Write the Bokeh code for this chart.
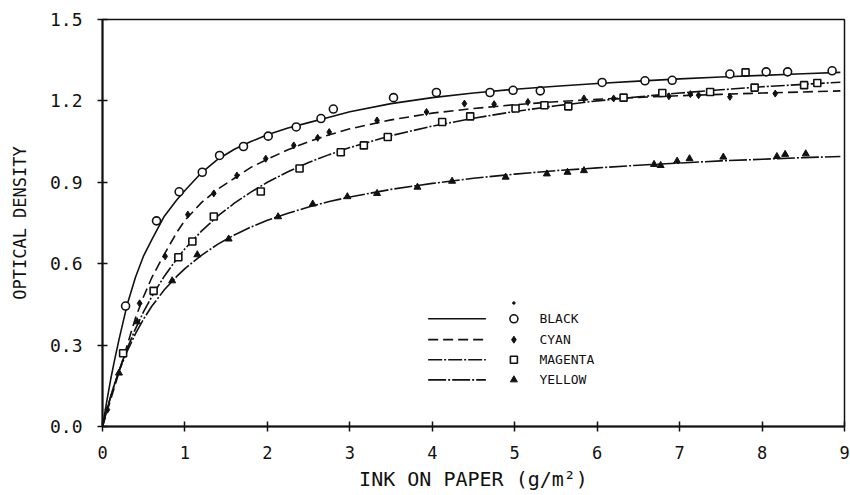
from bokeh.plotting import figure
from bokeh.models import Range1d, FixedTicker, PrintfTickFormatter
from bokeh.embed import file_html
from bokeh.resources import INLINE
from bokeh.core.properties import value

FONT = "DejaVu Sans Mono"

# ---- fitted density curves (ink weight g/m^2 -> optical density) ----
curve_x = [0, 0.05, 0.1, 0.15, 0.2, 0.3, 0.4, 0.5, 0.6, 0.75, 0.9, 1.0, 1.2, 1.4, 1.6,
           1.8, 2.0, 2.25, 2.5, 2.75, 3.0, 3.5, 4.0, 4.5, 5.0, 5.5, 6.0, 6.5, 7.0, 7.5,
           8.0, 8.5, 8.95]
black_fit = [0, 0.09, 0.175, 0.25, 0.32, 0.45, 0.55, 0.63, 0.69, 0.775, 0.835, 0.87, 0.935,
             0.985, 1.022, 1.05, 1.075, 1.10, 1.12, 1.14, 1.16, 1.19, 1.212, 1.229, 1.243,
             1.254, 1.264, 1.273, 1.281, 1.288, 1.294, 1.300, 1.305]
cyan_fit = [0, 0.05, 0.10, 0.15, 0.20, 0.30, 0.40, 0.48, 0.55, 0.635, 0.715, 0.76, 0.825,
            0.875, 0.915, 0.955, 0.985, 1.02, 1.05, 1.075, 1.097, 1.13, 1.155, 1.172, 1.186,
            1.197, 1.206, 1.213, 1.219, 1.224, 1.229, 1.233, 1.237]
magenta_fit = [0, 0.058, 0.11, 0.16, 0.206, 0.288, 0.36, 0.424, 0.48, 0.554, 0.617, 0.655,
               0.72, 0.776, 0.823, 0.864, 0.90, 0.939, 0.973, 1.002, 1.028, 1.072, 1.107,
               1.136, 1.161, 1.182, 1.20, 1.215, 1.229, 1.241, 1.252, 1.261, 1.269]
yellow_fit = [0, 0.059, 0.112, 0.16, 0.203, 0.278, 0.342, 0.397, 0.444, 0.504, 0.553, 0.582,
              0.631, 0.672, 0.706, 0.735, 0.76, 0.786, 0.809, 0.829, 0.846, 0.874, 0.896,
              0.915, 0.93, 0.943, 0.953, 0.963, 0.971, 0.979, 0.985, 0.991, 0.995]

# ---- measured prints ----
black_x = [0.28, 0.655, 0.93, 1.21, 1.42, 1.71, 2.01, 2.35, 2.65, 2.80, 3.53, 4.05, 4.70,
           4.98, 5.31, 6.06, 6.58, 6.91, 7.61, 8.05, 8.31, 8.85]
black_y = [0.444, 0.758, 0.865, 0.937, 0.999, 1.032, 1.070, 1.104, 1.135, 1.170, 1.212,
           1.231, 1.231, 1.239, 1.237, 1.268, 1.274, 1.276, 1.299, 1.307, 1.307, 1.311]

cyan_x = [0.06, 0.45, 0.76, 1.035, 1.35, 1.63, 1.98, 2.32, 2.61, 2.75, 3.33, 3.93, 4.39,
          4.75, 5.16, 5.84, 6.20, 6.87, 7.13, 7.23, 7.61, 8.16]
cyan_y = [0.062, 0.454, 0.627, 0.781, 0.859, 0.925, 0.987, 1.036, 1.064, 1.085, 1.128,
          1.159, 1.190, 1.188, 1.196, 1.209, 1.209, 1.217, 1.225, 1.221, 1.215, 1.227]

magenta_x = [0.25, 0.62, 0.92, 1.09, 1.35, 1.92, 2.39, 2.89, 3.17, 3.46, 4.12, 4.46, 5.01,
             5.36, 5.65, 6.32, 6.79, 7.37, 7.80, 7.91, 8.51, 8.67]
magenta_y = [0.270, 0.500, 0.624, 0.682, 0.774, 0.866, 0.951, 1.011, 1.036, 1.067, 1.122,
             1.143, 1.172, 1.184, 1.180, 1.212, 1.229, 1.233, 1.305, 1.249, 1.258, 1.266]

yellow_x = [0.20, 0.42, 0.845, 1.15, 1.53, 2.13, 2.55, 2.97, 3.33, 3.82, 4.24, 4.89, 5.39,
            5.64, 5.84, 6.69, 6.77, 6.97, 7.12, 7.53, 8.18, 8.28, 8.53]
yellow_y = [0.197, 0.386, 0.537, 0.633, 0.691, 0.773, 0.820, 0.847, 0.859, 0.882, 0.904,
            0.919, 0.931, 0.937, 0.943, 0.966, 0.962, 0.978, 0.987, 0.993, 0.995, 1.003, 1.005]

x_ticks = [0, 1, 2, 3, 4, 5, 6, 7, 8, 9]
y_ticks = [0.0, 0.3, 0.6, 0.9, 1.2, 1.5]
legend_names = ["BLACK", "CYAN", "MAGENTA", "YELLOW"]

INK = "#111111"

p = figure(width=850, height=495, output_backend="svg", toolbar_location=None,
           x_range=Range1d(0, 9), y_range=Range1d(0, 1.5),
           min_border_left=102, min_border_right=6, min_border_top=19, min_border_bottom=69)
p.background_fill_color = "white"
p.border_fill_color = "white"
p.outline_line_color = INK
p.outline_line_width = 1.5
p.xgrid.grid_line_color = None
p.ygrid.grid_line_color = None

for ax in (p.xaxis[0], p.yaxis[0]):
    ax.axis_line_color = INK
    ax.axis_line_width = 2
    ax.major_tick_line_color = INK
    ax.major_tick_line_width = 1.5
    ax.major_tick_in = 5
    ax.major_tick_out = 5
    ax.minor_tick_line_color = None
    ax.major_label_text_font = FONT
    ax.major_label_text_color = INK
    ax.axis_label_text_font = FONT
    ax.axis_label_text_font_style = "normal"
    ax.axis_label_text_color = INK

p.xaxis.ticker = FixedTicker(ticks=x_ticks)
p.yaxis.ticker = FixedTicker(ticks=y_ticks)
p.xaxis.formatter = PrintfTickFormatter(format="%d")
p.yaxis.formatter = PrintfTickFormatter(format="%.1f")
p.xaxis.major_label_text_font_size = "17px"
p.yaxis.major_label_text_font_size = "18px"
p.xaxis.major_label_standoff = 14
p.yaxis.major_label_standoff = 15
p.xaxis.axis_label = "INK ON PAPER (g/m²)"
p.yaxis.axis_label = "OPTICAL DENSITY"
p.xaxis.axis_label_text_font_size = "20px"
p.yaxis.axis_label_text_font_size = "17px"
p.xaxis.axis_label_standoff = 5
p.yaxis.axis_label_standoff = 17

# line styles per ink
styles = {
    "BLACK": dict(line_dash="solid"),
    "CYAN": dict(line_dash="10 5"),
    "MAGENTA": dict(line_dash="14 2 2 2"),
    "YELLOW": dict(line_dash="18 2 2 2"),
}

p.line(curve_x, black_fit, line_color=INK, line_width=1.6, **styles["BLACK"])
p.line(curve_x, cyan_fit, line_color=INK, line_width=1.6, **styles["CYAN"])
p.line(curve_x, magenta_fit, line_color=INK, line_width=1.6, **styles["MAGENTA"])
p.line(curve_x, yellow_fit, line_color=INK, line_width=1.6, **styles["YELLOW"])

markers = {
    "BLACK": dict(marker="circle", size=8, fill_color="white", line_color=INK, line_width=1.6),
    "CYAN": dict(marker="diamond", size=7, fill_color=INK, line_color=INK, line_width=1),
    "MAGENTA": dict(marker="square", size=7, fill_color="white", line_color=INK, line_width=1.6),
    "YELLOW": dict(marker="triangle", size=7, fill_color=INK, line_color=INK, line_width=1),
}

p.scatter(black_x, black_y, **markers["BLACK"])
p.scatter(cyan_x, cyan_y, **markers["CYAN"])
p.scatter(magenta_x, magenta_y, **markers["MAGENTA"])
p.scatter(yellow_x, yellow_y, **markers["YELLOW"])

# key: line sample, symbol, name
key_x0, key_x1, key_sym, key_txt = 3.95, 4.65, 4.99, 5.30
key_rows = [0.397, 0.320, 0.246, 0.172]
p.scatter([key_sym], [0.455], marker="circle", size=2.5, fill_color=INK, line_color=INK)
for name, ky in zip(legend_names, key_rows):
    p.line([key_x0, key_x1], [ky, ky], line_color=INK, line_width=1.6, **styles[name])
    p.scatter([key_sym], [ky], **markers[name])
    p.text([key_txt], [ky], text=[name], text_font=value(FONT), text_font_size="13px",
           text_color=INK, text_baseline="middle", text_align="left")

open("out.html", "w").write(file_html(p, INLINE))
